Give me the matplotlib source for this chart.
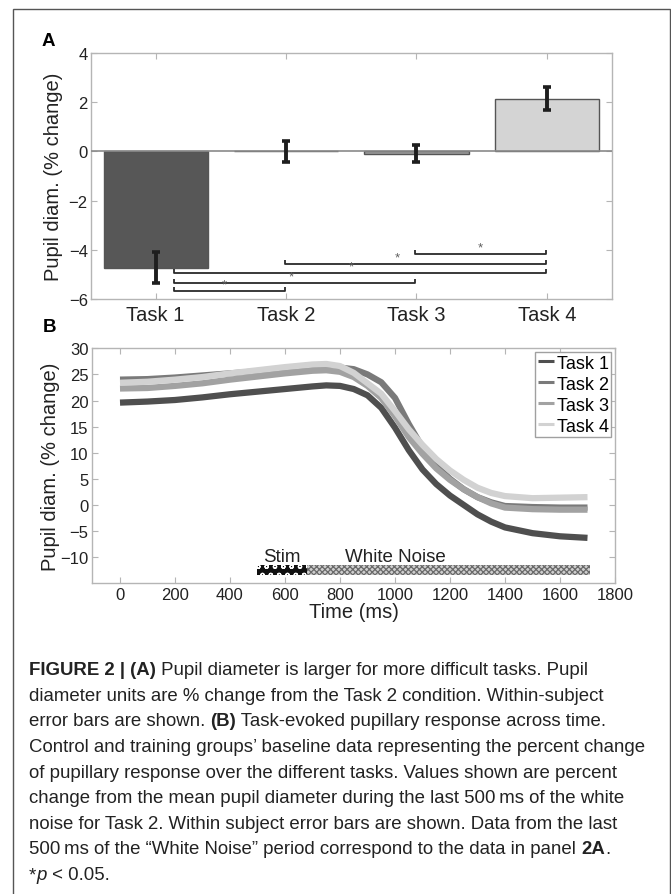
import matplotlib
matplotlib.use('Agg')
import matplotlib.pyplot as plt
from matplotlib.patches import Rectangle
from matplotlib.text import Annotation

plt.rcParams['font.family'] = ['Liberation Sans', 'DejaVu Sans']
plt.rcParams['hatch.linewidth'] = 0.9

# Panel A: mean pupil diameter per task
tasks = ['Task 1', 'Task 2', 'Task 3', 'Task 4']
bar_means = [-4.72, 0.0, -0.09, 2.14]
bar_errs = [0.62, 0.43, 0.36, 0.47]
bar_colors = ['#575757', '#7a7a7a', '#9c9c9c', '#d4d4d4']
sig_pairs = [(3, 4), (2, 4), (1, 4), (1, 3), (1, 2)]
sig_heights = [-4.18, -4.57, -4.95, -5.34, -5.69]
star_x = [3.49, 2.85, 2.50, 2.04, 1.53]

# Panel B: pupillary response over time
time_ms = [0, 100, 200, 300, 400, 500, 600, 700, 750, 800, 850, 900, 950,
           1000, 1050, 1100, 1150, 1200, 1250, 1300, 1350, 1400, 1500, 1600, 1700]
task1 = [19.6, 19.8, 20.1, 20.6, 21.2, 21.7, 22.2, 22.7, 22.9, 22.8, 22.2, 21.0, 18.6,
         14.8, 10.5, 6.8, 4.0, 1.8, 0.0, -1.8, -3.2, -4.3, -5.4, -6.0, -6.3]
task2 = [24.0, 24.1, 24.4, 24.8, 25.2, 25.6, 26.0, 26.3, 26.4, 26.3, 26.0, 25.0, 23.5,
         20.5, 15.5, 11.0, 7.5, 5.0, 3.0, 1.5, 0.5, -0.2, -0.4, -0.5, -0.5]
task3 = [22.3, 22.4, 22.8, 23.3, 24.0, 24.6, 25.2, 25.7, 25.8, 25.5, 24.5, 22.8, 20.5,
         17.0, 13.0, 9.8, 7.0, 4.8, 3.0, 1.5, 0.3, -0.5, -0.8, -0.9, -0.9]
task4 = [23.4, 23.6, 24.0, 24.5, 25.2, 25.8, 26.4, 26.9, 27.0, 26.6, 25.3, 23.3, 21.3,
         18.0, 14.5, 11.5, 8.8, 6.6, 4.8, 3.3, 2.3, 1.7, 1.3, 1.4, 1.5]
line_colors = ['#4f4f4f', '#7a7a7a', '#a2a2a2', '#d2d2d2']

stim_span = (500, 680)
noise_span = (680, 1710)

caption_lines = [
    [('FIGURE 2 | (A)', 'bold', 'normal'),
     (' Pupil diameter is larger for more difficult tasks. Pupil', 'normal', 'normal')],
    [('diameter units are % change from the Task 2 condition. Within-subject', 'normal', 'normal')],
    [('error bars are shown. ', 'normal', 'normal'), ('(B)', 'bold', 'normal'),
     (' Task-evoked pupillary response across time.', 'normal', 'normal')],
    [('Control and training groups\u2019 baseline data representing the percent change', 'normal', 'normal')],
    [('of pupillary response over the different tasks. Values shown are percent', 'normal', 'normal')],
    [('change from the mean pupil diameter during the last 500\u2009ms of the white', 'normal', 'normal')],
    [('noise for Task 2. Within subject error bars are shown. Data from the last', 'normal', 'normal')],
    [('500\u2009ms of the \u201cWhite Noise\u201d period correspond to the data in panel ', 'normal', 'normal'),
     ('2A', 'bold', 'normal'), ('.', 'normal', 'normal')],
    [('*', 'normal', 'normal'), ('p', 'normal', 'italic'), (' < 0.05.', 'normal', 'normal')],
]

W, H = 671, 895
fig = plt.figure(figsize=(W / 100, H / 100), dpi=100)

# outer frame
fig.patches.append(Rectangle((12.8 / W, -0.02), (669.5 - 12.8) / W, 1.02 - 10 / H,
                             transform=fig.transFigure, fill=False,
                             edgecolor='#555555', linewidth=1.0))


def style_axes(ax):
    for s in ax.spines.values():
        s.set_color('#b5b5b5')
        s.set_linewidth(1.0)
    ax.tick_params(direction='in', top=True, right=True, color='#b5b5b5',
                   length=4, labelcolor='#222222')


# ---- Panel A ----
axA = fig.add_axes([90.5 / W, 1 - 300 / H, 521.5 / W, 246 / H])
xs = [1, 2, 3, 4]
axA.bar(xs, bar_means, width=0.8, color=bar_colors, edgecolor='#555555', linewidth=1.0, zorder=2)
axA.axhline(0, color='#8a8a8a', linewidth=1.2, zorder=3)
axA.errorbar(xs, bar_means, yerr=bar_errs, fmt='none', ecolor='#1e1e1e',
             elinewidth=2.8, capsize=3, capthick=2.6, zorder=4)

for (a, b), h, sx in zip(sig_pairs, sig_heights, star_x):
    x0 = a + 0.14 if a == 1 else a - 0.01
    x1 = b - 0.01
    axA.plot([x0, x0, x1, x1], [h + 0.16, h, h, h + 0.16], color='#2a2a2a',
             linewidth=1.3, zorder=3, solid_capstyle='butt')
    axA.text(sx, h + 0.02, '*', ha='center', va='bottom', fontsize=9.5, color='#5e5e5e')

axA.set_xlim(0.5, 4.5)
axA.set_ylim(-6, 4)
axA.set_xticks(xs)
axA.set_xticklabels(tasks, fontsize=14.5)
axA.set_yticks([-6, -4, -2, 0, 2, 4])
axA.tick_params(axis='y', labelsize=12, pad=2)
axA.tick_params(axis='x', pad=4)
axA.set_ylabel('Pupil diam. (% change)', fontsize=14.5, color='#222222', labelpad=4)
style_axes(axA)
fig.text(41.5 / W, 1 - 46.5 / H, 'A', fontsize=13.5, fontweight='bold', ha='left', va='baseline')

# ---- Panel B ----
axB = fig.add_axes([92.5 / W, 1 - 584.3 / H, 522.5 / W, 235 / H])
for ys, c, lab in zip([task1, task2, task3, task4], line_colors, tasks):
    axB.plot(time_ms, ys, color=c, linewidth=4.5, label=lab, solid_capstyle='butt',
             solid_joinstyle='round')

axB.barh(-12.5, stim_span[1] - stim_span[0], left=stim_span[0], height=2.0,
         color='#111111', edgecolor='white', hatch='oo', linewidth=0)
axB.barh(-12.5, noise_span[1] - noise_span[0], left=noise_span[0], height=2.0,
         color='#cfcfcf', edgecolor='#6a6a6a', hatch='xxxxxx', linewidth=0)
axB.text(589, -9.8, 'Stim', ha='center', va='center', fontsize=13.5, color='#222222')
axB.text(1001, -9.8, 'White Noise', ha='center', va='center', fontsize=13.5, color='#222222')

axB.set_xlim(-100, 1800)
axB.set_ylim(-15, 30)
axB.set_xticks(range(0, 1801, 200))
axB.set_yticks(range(-10, 31, 5))
axB.tick_params(labelsize=12, pad=3)
axB.set_xlabel('Time (ms)', fontsize=14.5, color='#222222', labelpad=0)
axB.set_ylabel('Pupil diam. (% change)', fontsize=14.5, color='#222222', labelpad=0)
style_axes(axB)
leg = axB.legend(loc='upper right', fontsize=13, frameon=True, fancybox=False,
                 edgecolor='#a0a0a0', framealpha=1, handlelength=0.9,
                 handletextpad=0.15, labelspacing=0.22, borderpad=0.15,
                 borderaxespad=0.2)
leg.get_frame().set_linewidth(1.0)
for ln in leg.get_lines():
    ln.set_linewidth(2.2)
fig.text(42.5 / W, 1 - 332 / H, 'B', fontsize=13.5, fontweight='bold', ha='left', va='baseline')

# ---- Caption ----
line_y = [672, 698, 723, 749, 775, 800, 826, 851, 877]
for runs, yc in zip(caption_lines, line_y):
    prev = None
    for txt, wt, st in runs:
        if prev is None:
            prev = fig.text(29 / W, 1 - (yc + 7) / H, txt, fontsize=13.4,
                            fontweight=wt, fontstyle=st, ha='left', va='bottom',
                            color='#222222')
        else:
            ann = Annotation(txt, xy=(1, 0), xycoords=prev, fontsize=13.4,
                             fontweight=wt, fontstyle=st, ha='left', va='bottom',
                             color='#222222')
            fig.add_artist(ann)
            prev = ann

fig.savefig('out.png', dpi=100)
